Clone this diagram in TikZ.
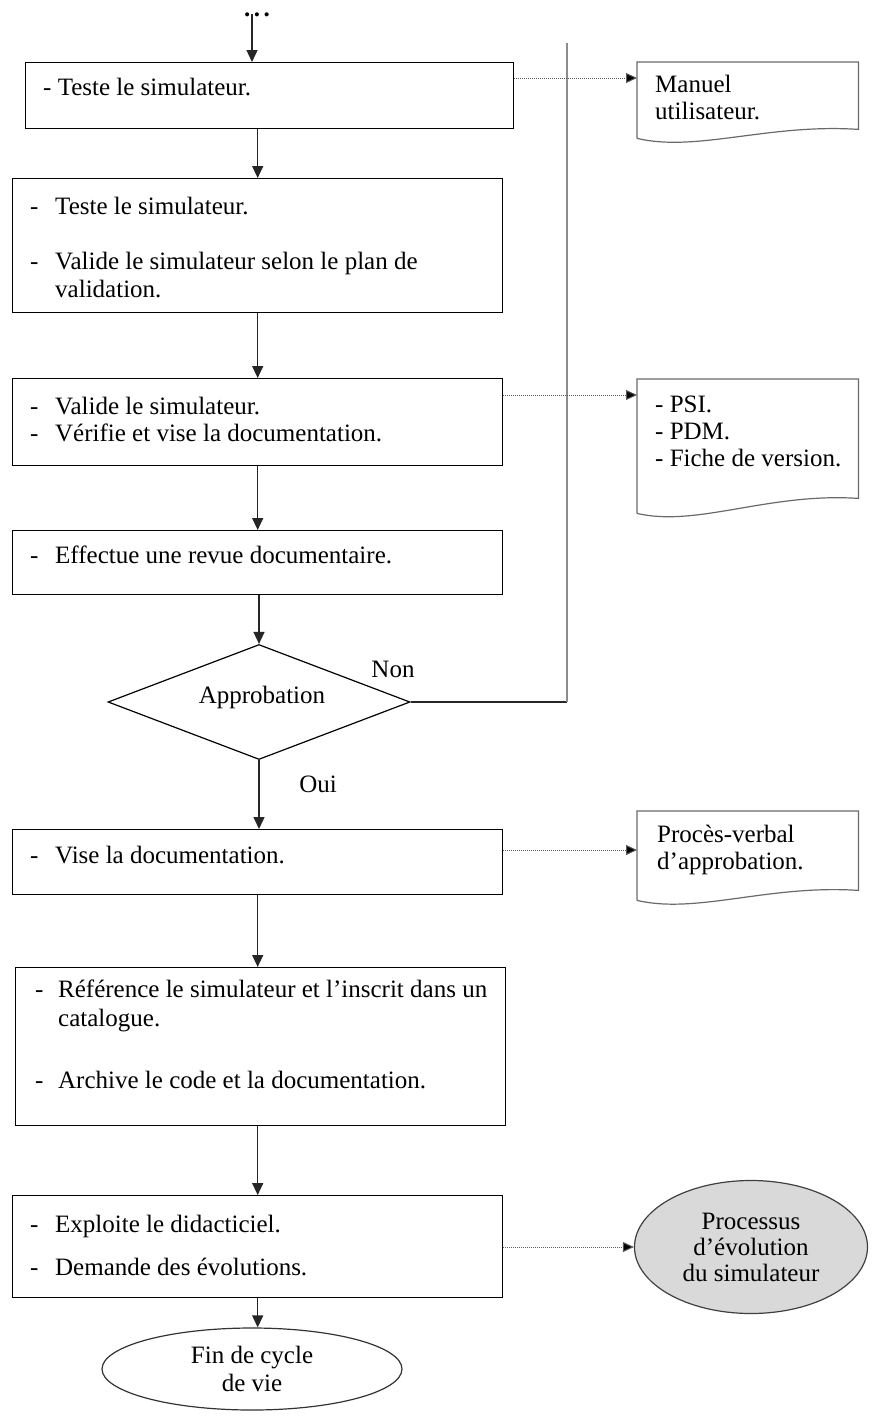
\documentclass[tikz,border=0pt]{standalone}
\usepackage{fontspec}
\setmainfont{Liberation Serif}
\usetikzlibrary{arrows.meta,shapes.geometric,calc}
\definecolor{lineg}{HTML}{8C8C8C}
\definecolor{docg}{HTML}{6A6A6A}
\definecolor{evofill}{HTML}{D9D9D9}
\newcommand{\itm}[1]{\makebox[25pt][l]{-}#1}
\newcommand{\docnode}[5]{%
  \node[inner sep=0pt, minimum width=221pt, minimum height=#4pt, anchor=north west] (#1) at (#2,#3) {};
  \draw[docline] (#1.south west) -- (#1.north west) -- (#1.north east) -- ($(#1.south east)+(0,-#5)$)
     .. controls ($(#1.south east)+(-90,-#5-6)$) and ($(#1.south west)+(60,14)$) .. (#1.south west);
}
\tikzset{
  box/.style={draw=black, line width=1.4pt, inner sep=0pt},
  txt/.style={inner sep=0pt, anchor=base west},
  lbl/.style={inner sep=0pt, anchor=base},
  arr/.style={draw=black!85, line width=1.4pt, -{Triangle[width=11pt,length=12pt]}},
  dotarr/.style={draw=black!65, line width=1pt, densely dotted, -{Triangle[width=10pt,length=11pt,fill=black]}},
  docline/.style={draw=docg, line width=1.2pt},
}
\begin{document}
\begin{tikzpicture}[x=1pt,y=-1pt, every node/.style={font=\fontsize{25}{27.5}\selectfont}]
\fill[white] (0,0) rectangle (874,1427);
\useasboundingbox (0,0) rectangle (874,1427);

% start
\node[lbl] (dots) at (257,16) {\textbf{.\hspace{3.5pt}.\hspace{3.5pt}.}};
\coordinate (start) at (252,14);

% process boxes
\node[box, minimum width=488pt, minimum height=66pt, anchor=north west] (b1) at (25,62) {};
\node[box, minimum width=490pt, minimum height=134pt, anchor=north west] (b2) at (12,178) {};
\node[box, minimum width=490pt, minimum height=87pt, anchor=north west] (b3) at (12,378) {};
\node[box, minimum width=490pt, minimum height=64pt, anchor=north west] (b4) at (12,530) {};
\node[draw=black, line width=1.2pt, inner sep=0pt, diamond, minimum width=302pt, minimum height=115pt] (dec) at (259,702) {};
\node[lbl] (appr) at (262,703) {Approbation};
\node[box, minimum width=490pt, minimum height=65pt, anchor=north west] (b5) at (12,829) {};
\node[box, minimum width=490pt, minimum height=158pt, anchor=north west] (b6) at (15,967) {};
\node[box, minimum width=490pt, minimum height=102pt, anchor=north west] (b7) at (12,1195) {};
\node[draw=black!80, line width=1.2pt, ellipse, minimum width=300pt, minimum height=82pt, align=center, inner sep=0pt] (fin) at (252,1369) {Fin de cycle\\de vie};
\node[draw=black!75, line width=1.2pt, fill=evofill, ellipse, minimum width=233pt, minimum height=133pt, align=center, inner sep=0pt, font=\fontsize{25}{26}\selectfont] (evo) at (751,1247) {Processus\\d’évolution\\du simulateur};

% texts in boxes
\node[txt] (t1) at (43,95) {- Teste le simulateur.};
\node[txt] (t2a) at (30,214) {\itm{Teste le simulateur.}};
\node[txt] (t2b) at (30,269) {\itm{Valide le simulateur selon le plan de}};
\node[txt] (t2c) at (55,297) {validation.};
\node[txt] (t3a) at (30,414) {\itm{Valide le simulateur.}};
\node[txt] (t3b) at (30,441) {\itm{Vérifie et vise la documentation.}};
\node[txt] (t4) at (30,563) {\itm{Effectue une revue documentaire.}};
\node[txt] (t5) at (30,863) {\itm{Vise la documentation.}};
\node[txt] (t6a) at (35,997) {\makebox[23pt][l]{-}Référence le simulateur et l’inscrit dans un};
\node[txt] (t6b) at (58,1026) {catalogue.};
\node[txt] (t6c) at (35,1088) {\makebox[23pt][l]{-}Archive le code et la documentation.};
\node[txt] (t7a) at (30,1232) {\itm{Exploite le didacticiel.}};
\node[txt] (t7b) at (30,1275) {\itm{Demande des évolutions.}};

% labels
\node[lbl] (non) at (393,677) {Non};
\node[lbl] (oui) at (318,792) {Oui};

% documents
\docnode{d1}{637}{62}{76}{9}
\docnode{d2}{637}{379}{134}{15}
\docnode{d3}{637}{811}{89}{10}
\node[txt] (d1a) at (655,92) {Manuel};
\node[txt] (d1b) at (655,119) {utilisateur.};
\node[txt] (d2a) at (655,412) {- PSI.};
\node[txt] (d2b) at (655,439) {- PDM.};
\node[txt] (d2c) at (655,466) {- Fiche de version.};
\node[txt] (d3a) at (657,842) {Procès-verbal};
\node[txt] (d3b) at (657,869) {d’approbation.};

% main flow
\draw[arr] (start) -- (start |- b1.north);
\draw[arr] (b1.south -| b2.north) -- (b2.north);
\draw[arr] (b2.south) -- (b3.north);
\draw[arr] (b3.south) -- (b4.north);
\draw[arr] (b4.south -| dec.north) -- (dec.north);
\draw[arr] (dec.south) -- (dec.south |- b5.north);
\draw[arr] (b5.south) -- (b5.south |- b6.north);
\draw[arr] (b6.south -| b7.north) -- (b7.north);
\draw[arr] (b7.south) -- (b7.south |- fin.north);

% feedback line
\coordinate (fbtop) at (567,43);
\draw[black!85, line width=1.3pt] (dec.east) -- (dec.east -| fbtop);
\draw[lineg, line width=2pt] (dec.east -| fbtop) -- (fbtop);

% dotted outputs
\coordinate (d1in) at ($(d1.north west)+(0,16)$);
\draw[dotarr] (d1in -| b1.east) -- (d1in);
\coordinate (d2in) at ($(d2.north west)+(0,16)$);
\draw[dotarr] (d2in -| b3.east) -- (d2in);
\coordinate (d3in) at ($(d3.north west)+(0,39)$);
\draw[dotarr] (d3in -| b5.east) -- (d3in);
\draw[dotarr] (b7.east |- evo.west) -- (evo.west);
\end{tikzpicture}
\end{document}
